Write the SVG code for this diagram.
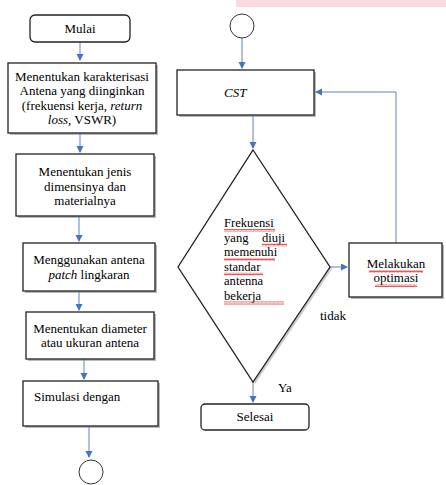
<svg xmlns="http://www.w3.org/2000/svg" width="446" height="485" viewBox="0 0 446 485" font-family="'Liberation Serif', 'Times New Roman', serif" font-size="13">
<style>
.c{text-anchor:middle}
.box{fill:#fff;stroke:#222;stroke-width:1.3}
.sh{fill:#8a8a8a;opacity:0.6}
.ln{fill:none;stroke:#5b84c8;stroke-width:1}
.dt{font-size:12.6px}
</style>
<defs>
<marker id="ah" markerWidth="8" markerHeight="8" refX="6" refY="3.5" orient="auto" markerUnits="userSpaceOnUse">
<path d="M0,0 L7,3.5 L0,7 z" fill="#4472c4"/>
</marker>
<pattern id="wv" width="4" height="3" patternUnits="userSpaceOnUse">
<path d="M0,2.5 L1,0.5 L2,2.5 L3,0.5 L4,2.5" fill="none" stroke="#e03030" stroke-width="0.8"/>
</pattern>
</defs>
<rect x="236" y="0" width="210" height="7" fill="#fcd9dd"/>

<g id="connectors">
<path class="ln" d="M80,42 V60" marker-end="url(#ah)"/>
<path class="ln" d="M80,133 V152" marker-end="url(#ah)"/>
<path class="ln" d="M79,216 V241" marker-end="url(#ah)"/>
<path class="ln" d="M79,291 V310" marker-end="url(#ah)"/>
<path class="ln" d="M84,359 V379" marker-end="url(#ah)"/>
<path class="ln" d="M89,426 V457" marker-end="url(#ah)"/>
<path class="ln" d="M242,38 V68" marker-end="url(#ah)"/>
<path class="ln" d="M253,115 V148" marker-end="url(#ah)"/>
<path class="ln" d="M330,267 H347" marker-end="url(#ah)"/>
<path class="ln" d="M396,243 V92 H316" marker-end="url(#ah)"/>
<path class="ln" d="M253,382 V402" marker-end="url(#ah)"/>
</g>

<g id="mulai">
<rect x="30" y="15" width="100" height="27" rx="5" class="box"/>
<text x="80" y="33" class="c">Mulai</text>
</g>

<g id="karakterisasi">
<rect x="10" y="65" width="148" height="70" class="sh"/>
<rect x="8" y="63" width="148" height="70" class="box"/>
<text x="82" y="81" class="c">Menentukan karakterisasi</text>
<text x="82" y="95" class="c">Antena yang diinginkan</text>
<text x="82" y="110" class="c">(frekuensi kerja, <tspan font-style="italic">return</tspan></text>
<text x="82" y="124" class="c"><tspan font-style="italic">loss</tspan>, VSWR)</text>
</g>

<g id="jenis">
<rect x="18" y="156" width="138" height="62" class="sh"/>
<rect x="16" y="154" width="138" height="62" class="box"/>
<text x="85" y="176" class="c">Menentukan jenis</text>
<text x="85" y="191" class="c">dimensinya dan</text>
<text x="85" y="205" class="c">materialnya</text>
</g>

<g id="patch">
<rect x="25" y="245" width="132" height="48" class="sh"/>
<rect x="23" y="243" width="132" height="48" class="box"/>
<text x="89" y="264" class="c">Menggunakan antena</text>
<text x="89" y="279" class="c"><tspan font-style="italic">patch</tspan> lingkaran</text>
</g>

<g id="diameter">
<rect x="28" y="314" width="128" height="47" class="sh"/>
<rect x="26" y="312" width="128" height="47" class="box"/>
<text x="90" y="333" class="c">Menentukan diameter</text>
<text x="90" y="347" class="c">atau ukuran antena</text>
</g>

<g id="simulasi">
<rect x="25" y="383" width="135" height="45" class="sh"/>
<rect x="23" y="381" width="135" height="45" class="box"/>
<text x="34" y="401">Simulasi dengan</text>
</g>

<g id="circle-bottom">
<circle cx="91" cy="472" r="12" fill="#fff" stroke="#333" stroke-width="1"/>
</g>

<g id="circle-top">
<circle cx="242" cy="26" r="12" fill="#fff" stroke="#333" stroke-width="1"/>
</g>

<g id="cst">
<rect x="179" y="72" width="137" height="45" class="sh"/>
<rect x="177" y="70" width="137" height="45" class="box"/>
<text x="224" y="97" font-style="italic">CST</text>
</g>

<g id="decision">
<polygon points="255,152 332,269 255,384 180,269" fill="#999" opacity="0.5"/>
<polygon points="253,150 330,267 253,382 178,267" fill="#fff" stroke="#222" stroke-width="1.3"/>
<text class="dt" x="224" y="227">Frekuensi</text>
<text class="dt" x="224" y="241.5">yang<tspan x="262">diuji</tspan></text>
<text class="dt" x="224" y="256">memenuhi</text>
<text class="dt" x="224" y="270.5">standar</text>
<text class="dt" x="224" y="285">antenna</text>
<text class="dt" x="224" y="299.5">bekerja</text>
<rect x="224" y="229" width="51" height="3" fill="url(#wv)"/>
<rect x="262" y="243.5" width="25" height="3" fill="url(#wv)"/>
<rect x="224" y="258" width="51" height="3" fill="url(#wv)"/>
<rect x="224" y="272.5" width="39" height="3" fill="url(#wv)"/>
<rect x="224" y="301.5" width="60" height="3" fill="url(#wv)"/>
</g>

<g id="optimasi">
<rect x="351" y="245" width="93" height="54" class="sh"/>
<rect x="349" y="243" width="93" height="54" class="box"/>
<text x="396" y="268" class="c">Melakukan</text>
<text x="396" y="282" class="c">optimasi</text>
<rect x="369" y="270" width="54" height="3" fill="url(#wv)"/>
<rect x="375" y="284" width="42" height="3" fill="url(#wv)"/>
</g>

<g id="selesai">
<rect x="201" y="404" width="108" height="26" rx="4" class="box"/>
<text x="255" y="421" class="c">Selesai</text>
</g>

<text x="320" y="320">tidak</text>
<text x="278" y="392">Ya</text>
</svg>
